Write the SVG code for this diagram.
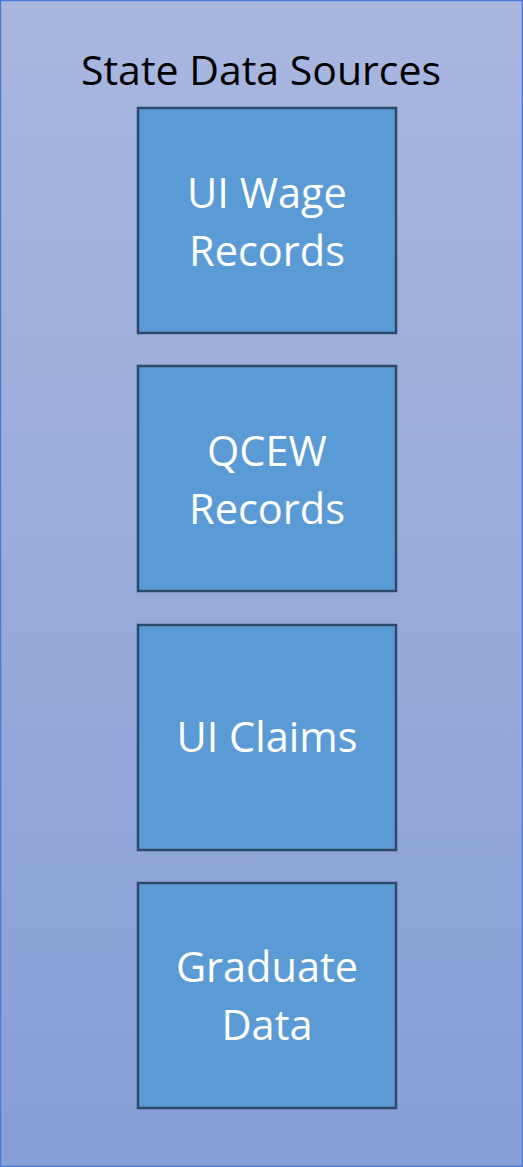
<svg xmlns="http://www.w3.org/2000/svg" width="523" height="1167" viewBox="0 0 523 1167">
<style>
.box{fill:#5B9BD5;stroke:#2E4A6B;stroke-width:2.5}
.lbl{font-family:"Open Sans","Liberation Sans",sans-serif;font-size:41.5px;fill:#FFFFFF;text-anchor:middle}
.title{font-family:"Open Sans","Liberation Sans",sans-serif;font-size:41px;fill:#000000;text-anchor:middle}
</style>
<defs>
<linearGradient id="bg" x1="0" y1="0" x2="0" y2="1">
<stop offset="0" stop-color="#A9B7E0"/>
<stop offset="1" stop-color="#879ED6"/>
</linearGradient>
</defs>
<g id="container">
<rect x="0.5" y="0.5" width="522" height="1166" fill="url(#bg)" stroke="#4A7BD6" stroke-width="1.5"/>
<text class="title" x="261" y="85">State Data Sources</text>
</g>
<g id="connectors"></g>
<g id="node-ui-wage">
<rect class="box" x="138" y="108" width="258" height="225"/>
<text class="lbl" x="267" y="208">UI Wage</text>
<text class="lbl" x="267" y="266">Records</text>
</g>
<g id="node-qcew">
<rect class="box" x="138" y="366" width="258" height="225"/>
<text class="lbl" x="267" y="466">QCEW</text>
<text class="lbl" x="267" y="524">Records</text>
</g>
<g id="node-ui-claims">
<rect class="box" x="138" y="625" width="258" height="225"/>
<text class="lbl" x="267" y="752">UI Claims</text>
</g>
<g id="node-graduate">
<rect class="box" x="138" y="883" width="258" height="225"/>
<text class="lbl" x="267" y="982">Graduate</text>
<text class="lbl" x="267" y="1040">Data</text>
</g>
</svg>
